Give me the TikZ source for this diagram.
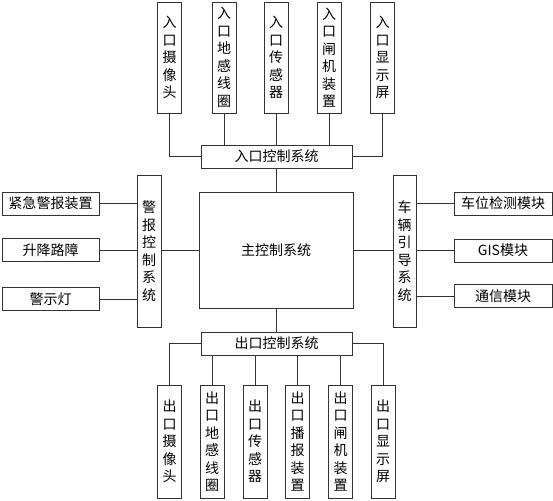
\documentclass[tikz,border=0pt]{standalone}
\usepackage{fontspec}
\setmainfont{Noto Sans CJK SC}
\tikzset{
 box/.style={draw=black!80, line width=0.8pt, inner sep=0pt, align=center, font=\fontsize{14}{17.5}\selectfont},
 vbox/.style={box, minimum width=24pt, text width=24pt},
 hbox/.style={box, minimum height=23pt},
 link/.style={draw=black!80, line width=0.8pt}
}
\begin{document}
\begin{tikzpicture}[x=1pt, y=-1pt]
\useasboundingbox (0,0) rectangle (553,500);

% entrance side
 \node[vbox, minimum height=111] (in1) at (169.5,57.5) {入\\口\\摄\\像\\头};
 \node[vbox, minimum height=111] (in2) at (224,57.5) {入\\口\\地\\感\\线\\圈};
 \node[vbox, minimum height=111] (in3) at (276,57.5) {入\\口\\传\\感\\器};
 \node[vbox, minimum height=111] (in4) at (329,57.5) {入\\口\\闸\\机\\装\\置};
 \node[vbox, minimum height=111] (in5) at (382.5,57.5) {入\\口\\显\\示\\屏};
 \node[hbox, minimum width=151] (entry) at (276.5,156.5) {入口控制系统};

 \draw[link] (in1.south) |- (entry.west);
 \draw[link] (in2.south) -- (in2.south |- entry.north);
 \draw[link] (in3.south) -- (in3.south |- entry.north);
 \draw[link] (in4.south) -- (in4.south |- entry.north);
 \draw[link] (in5.south) |- (entry.east);

% main
 \node[box, minimum width=154, minimum height=116] (main) at (276,250) {主控制系统};
 \draw[link] (main.north -| in3.south) -- (in3.south |- entry.south);

% alarm side
 \node[vbox, minimum height=152] (alarm) at (149,251) {警\\报\\控\\制\\系\\统};
 \node[hbox, minimum width=97] (al1) at (50.5,203.5) {紧急警报装置};
 \node[hbox, minimum width=97] (al2) at (50.5,250) {升降路障};
 \node[hbox, minimum width=97] (al3) at (50.5,299) {警示灯};
 \draw[link] (al1.east) -- (al1.east -| alarm.west);
 \draw[link] (al2.east) -- (al2.east -| alarm.west);
 \draw[link] (al3.east) -- (al3.east -| alarm.west);
 \draw[link] (main.west) -- (main.west -| alarm.east);

% guidance side
 \node[vbox, minimum width=23, text width=23pt, minimum height=152] (guide) at (404.5,251) {车\\辆\\引\\导\\系\\统};
 \node[hbox, minimum width=98] (gd1) at (503,203.5) {车位检测模块};
 \node[hbox, minimum width=98] (gd2) at (503,250.5) {GIS模块};
 \node[hbox, minimum width=98] (gd3) at (503,296) {通信模块};
 \draw[link] (gd1.west) -- (gd1.west -| guide.east);
 \draw[link] (gd2.west) -- (gd2.west -| guide.east);
 \draw[link] (gd3.west) -- (gd3.west -| guide.east);
 \draw[link] (main.east) -- (main.east -| guide.west);

% exit side
 \node[hbox, minimum width=151] (exit) at (276.5,343.5) {出口控制系统};
 \draw[link] (main.south -| in3.south) -- (in3.south |- exit.north);
 \node[vbox, minimum height=113] (out1) at (169.5,441.5) {出\\口\\摄\\像\\头};
 \node[vbox, minimum height=113] (out2) at (212,441.5) {出\\口\\地\\感\\线\\圈};
 \node[vbox, minimum height=113] (out3) at (255,441.5) {出\\口\\传\\感\\器};
 \node[vbox, minimum height=113] (out4) at (297.5,441.5) {出\\口\\播\\报\\装\\置};
 \node[vbox, minimum height=113] (out5) at (340.5,441.5) {出\\口\\闸\\机\\装\\置};
 \node[vbox, minimum height=113] (out6) at (383,441.5) {出\\口\\显\\示\\屏};

 \draw[link] (out1.north) |- (exit.west);
 \draw[link] (out2.north) -- (out2.north |- exit.south);
 \draw[link] (out3.north) -- (out3.north |- exit.south);
 \draw[link] (out4.north) -- (out4.north |- exit.south);
 \draw[link] (out5.north) -- (out5.north |- exit.south);
 \draw[link] (out6.north) |- (exit.east);
\end{tikzpicture}
\end{document}
